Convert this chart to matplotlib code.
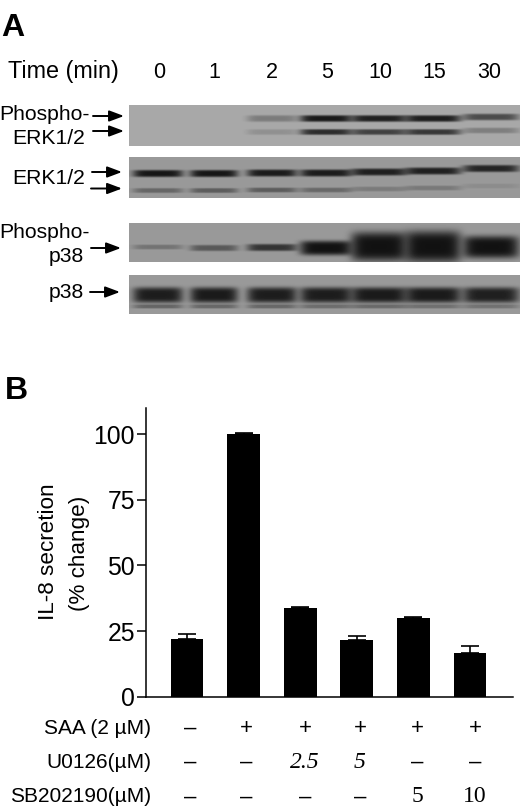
import numpy as np
import matplotlib
matplotlib.use("Agg")
import matplotlib.pyplot as plt

plt.rcParams['font.family'] = ['Liberation Sans', 'DejaVu Sans']

# ---------- data: panel A ----------
time_labels = ['0', '1', '2', '5', '10', '15', '30']
lane_x = [158, 214, 272, 326, 379, 433, 491]
lane_halfwidth = [25, 24, 25, 26, 28, 28, 28]

perk_upper = [0, 0, .30, .95, .90, .92, .62]
perk_lower = [0, 0, .16, .82, .68, .75, .28]
erk_upper = [.97, .97, .93, .93, .90, .90, .86]
erk_lower = [.38, .45, .45, .36, .22, .24, .10]
pp38_dark = [.28, .48, .75, 1, 1, 1, 1]
pp38_sigma = [2.2, 2.8, 3.2, 6.5, 13, 14, 10]
p38_main = [.92, .94, .92, .92, .94, .94, .90]
p38_lower = [.38, .36, .36, .32, .34, .30, .28]

# ---------- data: panel B ----------
bar_values = [22, 100, 33.7, 21.5, 30, 16.5]
bar_err = [2, 0.3, 0.6, 1.7, 0.4, 2.8]
y_ticks = [0, 25, 50, 75, 100]
row_names = ['SAA (2 µM)', 'U0126(µM)', 'SB202190(µM)']
row_saa = ['–', '+', '+', '+', '+', '+']
row_u0126 = ['–', '–', '2.5', '5', '–', '–']
row_sb = ['–', '–', '–', '–', '5', '10']

W, H = 520, 811
fig = plt.figure(figsize=(W / 100, H / 100), dpi=100, facecolor='white')
page = fig.add_axes([0, 0, 1, 1])
page.set_xlim(0, W)
page.set_ylim(H, 0)
page.axis('off')


def blot(top, bottom, bg, bands):
    """bands: list of (y centres per lane, darkness per lane, sigma per lane)."""
    x0, x1 = 129, 520
    xs = np.arange(x0, x1) + .5
    ys = np.arange(top, bottom) + .5
    xx, yy = np.meshgrid(xs, ys)
    keep = np.ones_like(xx)
    for yc, dark, sig in bands:
        for k, cx in enumerate(lane_x):
            dx = (xx - cx) / lane_halfwidth[k]
            dy = (yy - yc[k]) / sig[k]
            keep *= 1 - dark[k] * np.exp(-dx ** 6 - dy ** 4 / 1.5)
    img = 0.07 + (bg - 0.07) * keep
    page.imshow(img, cmap='gray', vmin=0, vmax=1, extent=[x0, x1, bottom, top],
                aspect='auto', interpolation='bilinear', zorder=1)


n = len(lane_x)
blot(105, 146, .66, [
    ([118.5] * 6 + [117], perk_upper, [3] * n),
    ([132] * 6 + [130.5], perk_lower, [2.6] * n)])
blot(157, 198, .60, [
    ([173.5, 173.5, 173, 173, 172, 171, 168.5], erk_upper, [3.2] * n),
    ([190.5, 190.5, 190, 190, 189, 188, 186], erk_lower, [2.2] * n)])
blot(223, 262, .60, [
    ([247, 248, 247.5, 248, 246.5, 246.5, 247], pp38_dark, pp38_sigma)])
blot(275, 314, .60, [
    ([295] * n, p38_main, [7] * n),
    ([306.5] * n, p38_lower, [1.8] * n)])
page.set_xlim(0, W)
page.set_ylim(H, 0)


def arrow(x0, x1, y):
    page.annotate('', xy=(x1, y), xytext=(x0, y), zorder=3,
                  arrowprops=dict(arrowstyle='-|>,head_length=0.8,head_width=0.3',
                                  color='black', lw=1.4, shrinkA=0, shrinkB=0,
                                  mutation_scale=11))


for a in [(93, 124, 116), (93, 124, 131), (92, 122, 172), (91, 122, 188.5),
          (91, 121, 248), (90, 120, 292)]:
    arrow(*a)

page.text(1, 28, 'A', fontsize=23, fontweight='bold', va='center', ha='left')
page.text(8, 71.5, 'Time (min)', fontsize=16.8, va='center', ha='left')
for lab, x in zip(time_labels, [159, 214.5, 272, 327, 380, 434, 489]):
    page.text(x, 72.5, lab, fontsize=15.5, va='center', ha='center')

page.text(90, 114, 'Phospho-', fontsize=15.2, va='center', ha='right')
page.text(85, 139, 'ERK1/2', fontsize=15.2, va='center', ha='right')
page.text(85, 179, 'ERK1/2', fontsize=15.2, va='center', ha='right')
page.text(90, 232, 'Phospho-', fontsize=15.2, va='center', ha='right')
page.text(84, 257, 'p38', fontsize=15.2, va='center', ha='right')
page.text(84, 292, 'p38', fontsize=15.2, va='center', ha='right')
page.text(5, 391, 'B', fontsize=23, fontweight='bold', va='center', ha='left')

# ---------- bar chart ----------
ax_left, ax_right, ax_top, ax_bottom = 146, 513, 408, 696.7
ax = fig.add_axes([ax_left / W, 1 - ax_bottom / H,
                   (ax_right - ax_left) / W, (ax_bottom - ax_top) / H])
ax.patch.set_alpha(0)
pos = np.arange(len(bar_values))
ax.bar(pos, bar_values, width=.578, color='black')
ax.errorbar(pos, bar_values, yerr=[np.zeros(len(pos)), bar_err], fmt='none',
            ecolor='black', elinewidth=1.2, capsize=6.5, capthick=1.2)
ax.set_xlim(-0.724, 5.76)
ax.set_ylim(0, 110)
ax.set_yticks(y_ticks)
ax.set_xticks([])
ax.tick_params(axis='y', length=6.5, width=1.1, labelsize=17.8, pad=1.5)
for s in ['top', 'right']:
    ax.spines[s].set_visible(False)
for s in ['left', 'bottom']:
    ax.spines[s].set_linewidth(1.1)

page.text(49, 552, 'IL-8 secretion', rotation=90, fontsize=16.2, va='center', ha='center')
page.text(79, 553, '(% change)', rotation=90, fontsize=16.2, va='center', ha='center')

row_y = [728, 762, 797]
row_x = [190, 246, 305, 360, 417, 475]
for name, y, vals in zip(row_names, row_y, [row_saa, row_u0126, row_sb]):
    page.text(151, y, name, fontsize=15, va='center', ha='right')
    for x, v in zip(row_x, vals):
        is_num = v not in ('–', '+')
        page.text(x, y, v, va='center', ha='center',
                  fontsize=17 if is_num else 16,
                  family=['Liberation Serif'] if is_num else ['Liberation Sans'],
                  style='italic' if v in ('2.5',) or (v == '5' and name.startswith('U')) else 'normal')

fig.savefig('out.png', dpi=100, facecolor='white')
